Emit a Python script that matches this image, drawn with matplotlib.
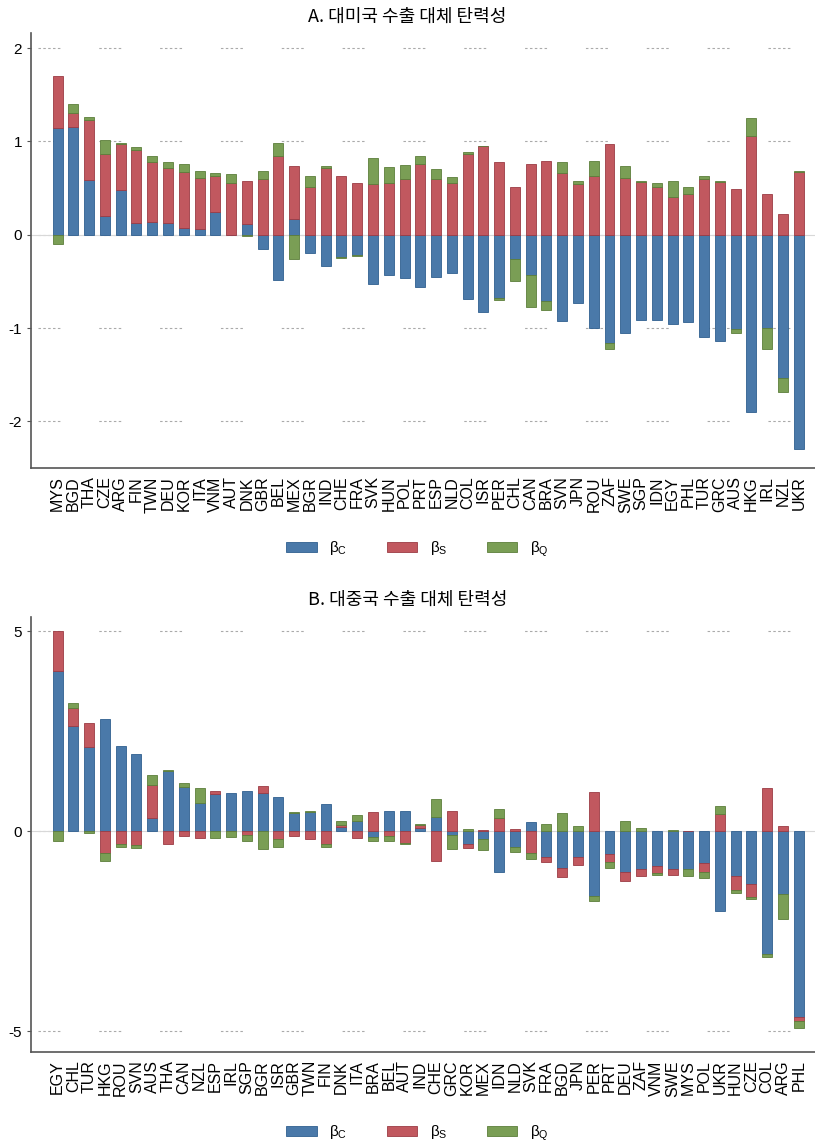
import matplotlib
matplotlib.use("Agg")
import matplotlib.pyplot as plt
from matplotlib.patches import Patch
import numpy as np

plt.rcParams["font.family"] = ["Liberation Sans", "Noto Sans CJK KR", "DejaVu Sans"]
plt.rcParams["mathtext.fontset"] = "custom"
plt.rcParams["mathtext.rm"] = "Liberation Sans"
plt.rcParams["mathtext.it"] = "Liberation Sans"
plt.rcParams["axes.unicode_minus"] = False
plt.rcParams["lines.scale_dashes"] = False

# A. exports to the US
us_countries = ["MYS", "BGD", "THA", "CZE", "ARG", "FIN", "TWN", "DEU", "KOR", "ITA",
                "VNM", "AUT", "DNK", "GBR", "BEL", "MEX", "BGR", "IND", "CHE", "FRA",
                "SVK", "HUN", "POL", "PRT", "ESP", "NLD", "COL", "ISR", "PER", "CHL",
                "CAN", "BRA", "SVN", "JPN", "ROU", "ZAF", "SWE", "SGP", "IDN", "EGY",
                "PHL", "TUR", "GRC", "AUS", "HKG", "IRL", "NZL", "UKR"]
us_bc = [1.14, 1.16, 0.59, 0.20, 0.48, 0.13, 0.14, 0.13, 0.075, 0.06,
         0.24, 0.0, 0.11, -0.15, -0.48, 0.17, -0.20, -0.33, -0.235, -0.22,
         -0.53, -0.43, -0.46, -0.56, -0.45, -0.41, -0.69, -0.83, -0.68, -0.26,
         -0.43, -0.71, -0.925, -0.73, -1.00, -1.165, -1.05, -0.91, -0.91, -0.96,
         -0.94, -1.10, -1.14, -1.01, -1.90, -1.00, -1.54, -2.30]
us_bs = [0.56, 0.14, 0.64, 0.67, 0.49, 0.78, 0.64, 0.59, 0.60, 0.55,
         0.39, 0.55, 0.47, 0.60, 0.84, 0.57, 0.51, 0.72, 0.63, 0.56,
         0.54, 0.55, 0.60, 0.76, 0.60, 0.55, 0.87, 0.95, 0.775, 0.51,
         0.76, 0.79, 0.66, 0.54, 0.63, 0.975, 0.61, 0.57, 0.51, 0.41,
         0.44, 0.60, 0.57, 0.49, 1.06, 0.44, 0.22, 0.67]
us_bq = [-0.10, 0.10, 0.035, 0.15, 0.01, 0.035, 0.06, 0.06, 0.085, 0.075,
         0.03, 0.10, -0.01, 0.08, 0.14, -0.26, 0.12, 0.02, -0.015, -0.01,
         0.28, 0.18, 0.15, 0.085, 0.10, 0.07, 0.02, 0.005, -0.015, -0.24,
         -0.34, -0.10, 0.12, 0.035, 0.165, -0.06, 0.13, 0.01, 0.04, 0.17,
         0.07, 0.035, 0.01, -0.04, 0.19, -0.22, -0.15, 0.01]

# B. exports to China
cn_countries = ["EGY", "CHL", "TUR", "HKG", "ROU", "SVN", "AUS", "THA", "CAN", "NZL",
                "ESP", "IRL", "SGP", "BGR", "ISR", "GBR", "TWN", "FIN", "DNK", "ITA",
                "BRA", "BEL", "AUT", "IND", "CHE", "GRC", "KOR", "MEX", "IDN", "NLD",
                "SVK", "FRA", "BGD", "JPN", "PER", "PRT", "DEU", "ZAF", "VNM", "SWE",
                "MYS", "POL", "UKR", "HUN", "CZE", "COL", "ARG", "PHL"]
cn_bc = [4.0, 2.63, 2.11, 2.79, 2.12, 1.93, 0.33, 1.51, 1.11, 0.71,
         0.925, 0.94, 1.01, 0.96, 0.86, 0.46, 0.475, 0.675, 0.09, 0.24,
         -0.14, 0.51, 0.51, 0.07, 0.35, -0.11, -0.33, -0.21, -1.02, -0.40,
         0.22, -0.66, -0.93, -0.66, -1.62, -0.575, -1.03, -0.94, -0.87, -0.94,
         -0.94, -0.81, -2.01, -1.12, -1.33, -3.08, -1.58, -4.64]
cn_bs = [1.0, 0.44, 0.58, -0.54, -0.33, -0.36, 0.82, -0.33, -0.125, -0.17,
         0.085, -0.01, -0.11, 0.165, -0.19, -0.125, -0.21, -0.33, 0.06, -0.175,
         0.475, -0.12, -0.29, 0.07, -0.74, 0.51, -0.10, 0.02, 0.32, 0.05,
         -0.56, -0.12, -0.23, -0.20, 0.97, -0.21, -0.22, -0.19, -0.17, -0.16,
         0.0, -0.21, 0.425, -0.36, -0.33, 1.08, 0.125, -0.10]
cn_bq = [-0.24, 0.12, -0.04, -0.20, -0.075, -0.075, 0.25, 0.01, 0.09, 0.37,
         -0.18, -0.13, -0.13, -0.45, -0.21, 0.02, 0.035, -0.075, 0.09, 0.15,
         -0.10, -0.14, -0.03, 0.03, 0.46, -0.33, 0.04, -0.27, 0.23, -0.12,
         -0.15, 0.17, 0.44, 0.125, -0.125, -0.15, 0.24, 0.08, -0.05, 0.02,
         -0.18, -0.16, 0.20, -0.07, -0.05, -0.075, -0.62, -0.19]

colors = ["#4a79a9", "#c1585f", "#7a9e55"]
edges = ["#2f5f8f", "#9c3b44", "#5c7e3a"]
labels = [r"$\beta_{\mathregular{C}}$", r"$\beta_{\mathregular{S}}$", r"$\beta_{\mathregular{Q}}$"]

# groups of five short dashes, then a long gap (like the source chart)
grid_dash = (38.8, (1.8, 1.7, 1.8, 1.7, 1.8, 1.7, 1.8, 1.7, 1.8, 28))


def stacked(ax, names, bc, bs, bq, yticks, ylim):
    x = np.arange(len(names))
    pos = np.zeros(len(names))
    neg = np.zeros(len(names))
    for vals, col, ec in zip([bc, bs, bq], colors, edges):
        vals = np.array(vals, dtype=float)
        bottom = np.where(vals >= 0, pos, neg)
        ax.bar(x, vals, 0.63, bottom=bottom, color=col, edgecolor=ec, linewidth=0.6, zorder=3)
        pos += np.clip(vals, 0, None)
        neg += np.clip(vals, None, 0)
    ax.axhline(0, color="#d8d8d8", lw=0.8, zorder=1)
    ax.set_xlim(-1.69, len(names) - 1 + 1.03)
    ax.set_ylim(*ylim)
    ax.set_yticks(yticks)
    ax.set_xticks(x)
    ax.set_xticklabels(names, rotation=90, fontsize=11.5)
    ax.tick_params(axis="x", length=0, pad=6)
    ax.tick_params(axis="y", length=3, labelsize=11, color="#555555")
    ax.yaxis.grid(True, color="#aaaaaa", lw=0.8, linestyle=grid_dash)
    ax.set_axisbelow(True)
    for side in ["top", "right"]:
        ax.spines[side].set_visible(False)
    for side in ["left", "bottom"]:
        ax.spines[side].set_color("#555555")
        ax.spines[side].set_linewidth(1.2)


fig = plt.figure(figsize=(8.15, 11.47), dpi=100)
ax1 = fig.add_axes([0.038, 0.592, 0.962, 0.379])
ax2 = fig.add_axes([0.038, 0.083, 0.962, 0.379])

stacked(ax1, us_countries, us_bc, us_bs, us_bq, [-2, -1, 0, 1, 2], (-2.5, 2.16))
stacked(ax2, cn_countries, cn_bc, cn_bs, cn_bq, [-5, 0, 5], (-5.52, 5.35))

fig.text(0.5, 1 - 17 / 1147, "A. 대미국 수출 대체 탄력성", ha="center", va="center", fontsize=13,
         family=["Noto Sans CJK KR", "DejaVu Sans"])
fig.text(0.5, 1 - 600 / 1147, "B. 대중국 수출 대체 탄력성", ha="center", va="center", fontsize=13,
         family=["Noto Sans CJK KR", "DejaVu Sans"])

handles = [Patch(facecolor=c, edgecolor=e, linewidth=0.6) for c, e in zip(colors, edges)]
for ypos in [1 - 549 / 1147, 1 - 1133 / 1147]:
    fig.legend(handles, labels, loc="center", bbox_to_anchor=(0.512, ypos), ncol=3,
               frameon=False, fontsize=11, handlelength=2.0, handleheight=0.7,
               columnspacing=2.6, handletextpad=0.8)

fig.savefig("out.png", dpi=100)
